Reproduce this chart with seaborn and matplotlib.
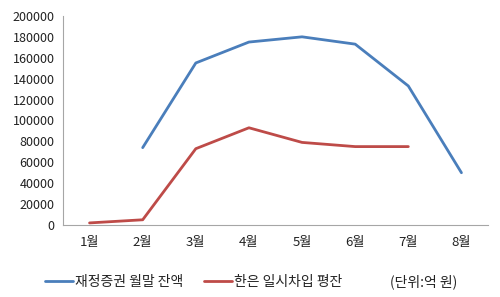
import matplotlib
matplotlib.use("Agg")
import matplotlib.pyplot as plt
import seaborn as sns
import numpy as np
import pandas as pd

months = ["1월", "2월", "3월", "4월", "5월", "6월", "7월", "8월"]
series_names = ["재정증권 월말 잔액", "한은 일시차입 평잔"]
bond_balance = [np.nan, 74000, 155000, 175000, 180000, 173000, 133000, 50000]
bok_borrow = [2000, 5000, 73000, 93000, 79000, 75000, 75000, np.nan]
y_ticks = list(range(0, 200001, 20000))
unit_note = "(단위:억 원)"

sns.set_theme(style="white")
plt.rcParams["font.family"] = ["Noto Sans CJK KR", "DejaVu Sans"]

idx = np.arange(len(months))
df = pd.DataFrame({
    "x": np.concatenate([idx, idx]),
    "value": bond_balance + bok_borrow,
    "series": [series_names[0]] * len(months) + [series_names[1]] * len(months),
}).dropna()

fig = plt.figure(figsize=(5.0, 2.97), dpi=100)
ax = fig.add_axes([0.126, 0.2424, 0.85, 0.704])
palette = {series_names[0]: "#4A7EBB", series_names[1]: "#BE4B48"}
sns.lineplot(data=df, x="x", y="value", hue="series", palette=palette,
             linewidth=2.0, ax=ax, legend=True, sort=True)

ax.set_xlim(-0.5, len(months) - 0.5)
ax.set_ylim(0, 200000)
ax.set_yticks(y_ticks)
ax.set_yticklabels([str(v) for v in y_ticks], fontsize=9, color="#222222")
ax.set_xticks(idx)
ax.set_xticklabels(months, fontsize=9.5, color="#222222")
ax.tick_params(axis="both", length=0, pad=6)
ax.tick_params(axis="x", pad=8)
ax.set_xlabel("")
ax.set_ylabel("")
for s in ["top", "right"]:
    ax.spines[s].set_visible(False)
for s in ["left", "bottom"]:
    ax.spines[s].set_color("#A6A6A6")
    ax.spines[s].set_linewidth(0.8)

handles, labels = ax.get_legend_handles_labels()
ax.legend_.remove()
leg = fig.legend(handles, labels, loc="center left", bbox_to_anchor=(0.085, 0.05),
                 ncol=2, frameon=False, fontsize=10, handlelength=2.0,
                 handletextpad=0.15, columnspacing=1.5, borderaxespad=0,
                 borderpad=0.2)
for t in leg.get_texts():
    t.set_color("#222222")
fig.text(0.78, 0.05, unit_note, fontsize=10, ha="left", va="center", color="#222222")

fig.savefig("out.png", dpi=100)
